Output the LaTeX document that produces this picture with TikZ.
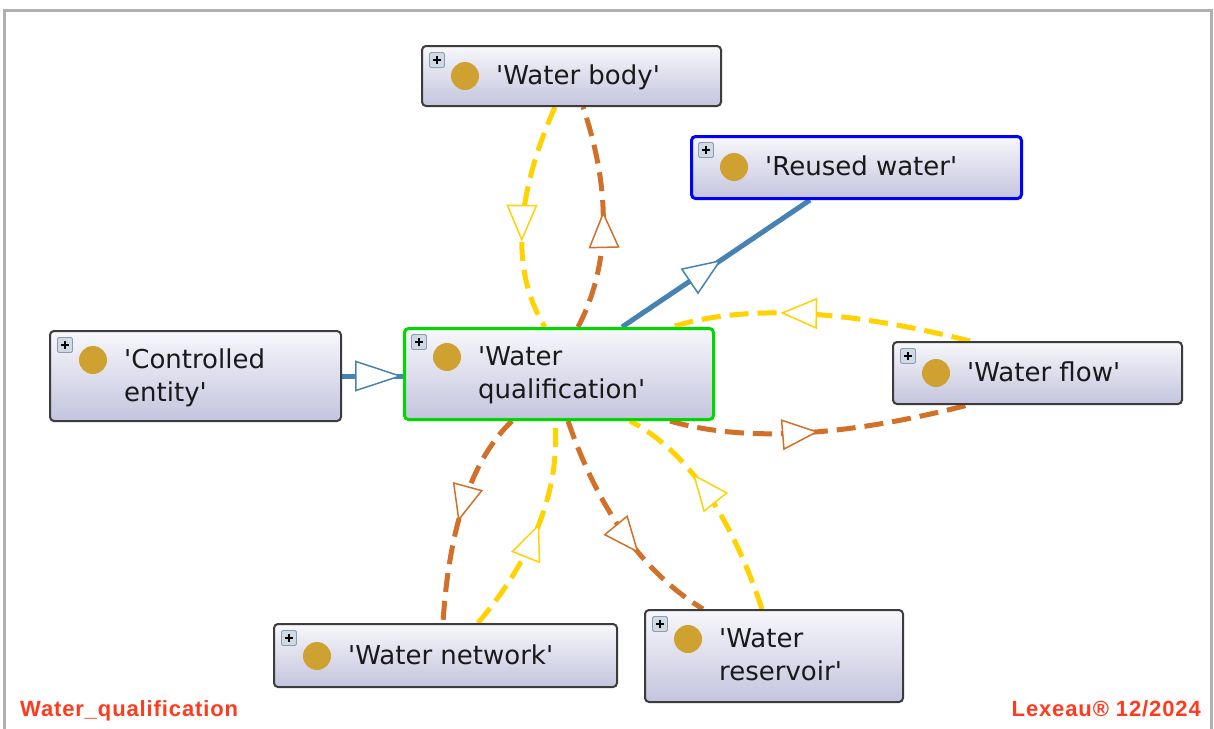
\documentclass[tikz,border=0pt]{standalone}
\usepackage{fontspec}
\setmainfont{DejaVu Sans}[Ligatures=TeXOff]
\newfontfamily\footfont{Liberation Sans}[LetterSpace=4]
\usetikzlibrary{calc,decorations.markings}
\definecolor{ygold}{HTML}{FFD200}
\definecolor{orng}{HTML}{D2702A}
\definecolor{sblue}{HTML}{4682B4}
\definecolor{dotc}{HTML}{CFA130}
\definecolor{boxtop}{HTML}{F7F7FB}
\definecolor{boxbot}{HTML}{C4C4DE}
\definecolor{brd}{HTML}{3C3C3C}
\definecolor{redt}{HTML}{FF3B1F}
\definecolor{framec}{HTML}{B0B0B0}
\definecolor{plusfill}{HTML}{D0DAE4}
\definecolor{plusbrd}{HTML}{8A9CB0}
\pgfdeclarelayer{paper}
\pgfdeclarelayer{edges}
\pgfsetlayers{paper,edges,main}
\tikzset{
  cbox/.style={rectangle, rounded corners=4pt, draw=brd, line width=2pt,
    top color=boxtop, bottom color=boxbot, inner sep=0pt},
  lbl/.style={inner sep=0pt, font=\fontsize{26}{33}\selectfont, text=black!90},
  dotn/.style={circle, fill=dotc, minimum size=28pt, inner sep=0pt},
  plusbox/.style={rectangle, rounded corners=1.5pt, draw=plusbrd, fill=plusfill, minimum size=15pt, inner sep=0pt, line width=0.8pt},
  foot/.style={inner sep=0pt, font=\footfont\bfseries\fontsize{22}{26}\selectfont, text=redt},
  dashrel/.style={line width=5pt, dash pattern=on 19pt off 9pt},
  solrel/.style={line width=5pt, draw=sblue},
  tri/.style n args={3}{postaction={decorate,decoration={markings,
    mark=at position #1 with {\filldraw[solid,fill=white,draw=#2,line width=1.5pt]
      (0,0)--(-#3,14.5)--(-#3,-14.5)--cycle;}}}}
}
\newcommand\twol[2]{\vtop{\hbox{#1}\hbox{#2}}}
\newcommand\owlcls[8]{%
  \node[cbox,#6,minimum width=#4,minimum height=#5,anchor=north west] (#1) at (#2,#3) {};
  \node[lbl,anchor=base west] (#1-t) at ($(#1.north west)+(75,#8)$) {#7};
  \node[dotn] (#1-d) at ($(#1.north west)+(44,#8-8)$) {};
  \node[plusbox] (#1-p) at ($(#1.north west)+(16,15)$) {};
  \draw[line width=1.3pt] ($(#1-p.center)+(-4,0)$) -- ($(#1-p.center)+(4,0)$);
  \draw[line width=1.3pt] ($(#1-p.center)+(0,-4)$) -- ($(#1-p.center)+(0,4)$);
}
% quadratic edge: style, start, end, control point
\newcommand\qedge[4]{%
  \draw[#1] (#2) .. controls ($(#2)!2/3!(#4)$) and ($(#3)!2/3!(#4)$) .. (#3);
}
\begin{document}
\begin{tikzpicture}[x=1pt,y=-1pt]
\useasboundingbox (0,0) rectangle (1214,728);
\begin{pgfonlayer}{paper}
\fill[white] (0,0) rectangle (1214,728);
\draw[framec, line width=3pt] (4.5,10) rectangle (1211,745);
\end{pgfonlayer}

\owlcls{wb}{421}{45}{299}{60}{}{'Water body'}{39}
\owlcls{ru}{690}{135}{330}{62}{draw=blue, line width=3pt}{'Reused water'}{40}
\owlcls{ce}{49}{330}{291}{90}{}{\twol{'Controlled}{entity'}}{38}
\owlcls{wq}{403}{327}{309}{91}{draw=green!85!black, line width=3pt}{\twol{'Water}{qualification'}}{38}
\owlcls{wf}{892}{341}{289}{62}{}{'Water flow'}{40}
\owlcls{wn}{273}{623}{343}{63}{}{'Water network'}{41}
\owlcls{wr}{644}{609}{258}{92}{}{\twol{'Water}{reservoir'}}{38}

% connector end points on the boxes
\coordinate (wb-b1) at ($(wb.south west)+(134,0)$);
\coordinate (wb-b2) at ($(wb.south west)+(162,0)$);
\coordinate (wq-t1) at ($(wq.north west)+(142,0)$);
\coordinate (wq-t2) at ($(wq.north west)+(175,0)$);
\coordinate (wq-t3) at ($(wq.north west)+(219,0)$);
\coordinate (wq-t4) at ($(wq.north west)+(269,0)$);
\coordinate (wq-b1) at ($(wq.south west)+(109,0)$);
\coordinate (wq-b2) at ($(wq.south west)+(152,0)$);
\coordinate (wq-b3) at ($(wq.south west)+(165,0)$);
\coordinate (wq-b4) at ($(wq.south west)+(227,0)$);
\coordinate (wq-b5) at ($(wq.south west)+(267,0)$);
\coordinate (ru-b) at ($(ru.south west)+(120,0)$);
\coordinate (wf-t) at ($(wf.north west)+(78,0)$);
\coordinate (wf-b) at ($(wf.south west)+(76,0)$);
\coordinate (wn-t1) at ($(wn.north west)+(170,0)$);
\coordinate (wn-t2) at ($(wn.north west)+(205,0)$);
\coordinate (wr-t1) at ($(wr.north west)+(59,0)$);
\coordinate (wr-t2) at ($(wr.north west)+(118,0)$);

\begin{pgfonlayer}{edges}
% Water body -> Water qualification (yellow)
\qedge{dashrel, ygold, tri={0.6}{ygold}{34}}{wb-b1}{wq-t1}{494,245}
% Water qualification -> Water body (orange)
\qedge{dashrel, orng, tri={0.52}{orng}{34}}{wq-t2}{wb-b2}{626,235}
% Water qualification -> Reused water (blue)
\draw[solrel, tri={0.52}{sblue}{36}] (wq-t3) -- (ru-b);
% Controlled entity -> Water qualification (blue)
\draw[solrel, tri={0.95}{sblue}{44}] (ce.east) -- (ce.east -| wq.west);
% Water flow -> Water qualification (yellow)
\qedge{dashrel, ygold, tri={0.63}{ygold}{34}}{wf-t}{wq-t4}{779,293}
% Water qualification -> Water flow (orange)
\qedge{dashrel, orng, tri={0.49}{orng}{34}}{wq-b5}{wf-b}{781,453}
% Water qualification -> Water network (orange)
\qedge{dashrel, orng, tri={0.52}{orng}{34}}{wq-b1}{wn-t1}{452,478}
% Water network -> Water qualification (yellow)
\qedge{dashrel, ygold, tri={0.52}{ygold}{34}}{wn-t2}{wq-b2}{563,522}
% Water qualification -> Water reservoir (orange)
\qedge{dashrel, orng, tri={0.63}{orng}{34}}{wq-b3}{wr-t1}{614,555}
% Water reservoir -> Water qualification (yellow)
\qedge{dashrel, ygold, tri={0.64}{ygold}{34}}{wr-t2}{wq-b4}{714,465}
\end{pgfonlayer}

\node[foot, anchor=base west] (fl) at (20,716) {Water\_qualification};
\node[foot, anchor=base east] (fr) at (1201,716) {Lexeau® 12/2024};
\end{tikzpicture}
\end{document}
